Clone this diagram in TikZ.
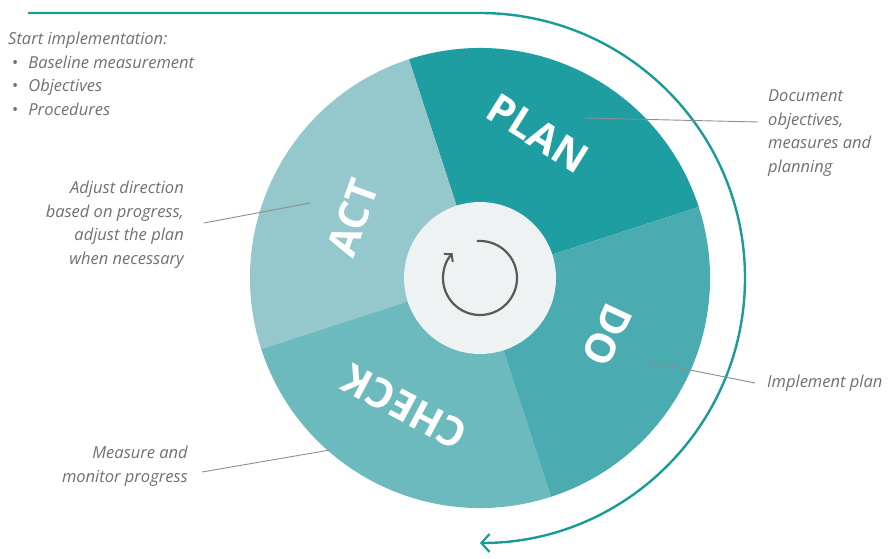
\documentclass[tikz,border=0pt]{standalone}
\usepackage{fontspec}
\setmainfont{Open Sans}
\usepackage{tikz}
\usetikzlibrary{arrows.meta,positioning,calc}
\definecolor{planteal}{RGB}{30,158,160}
\definecolor{doteal}{RGB}{74,172,176}
\definecolor{checkteal}{RGB}{108,186,190}
\definecolor{actteal}{RGB}{148,200,204}
\definecolor{hubgray}{RGB}{238,242,242}
\definecolor{arrowteal}{RGB}{26,156,150}
\definecolor{notegray}{RGB}{112,112,112}

\begin{document}
\begin{tikzpicture}[x=1pt, y=1pt,
    note/.style={font=\fontsize{16.5}{23.5}\selectfont\itshape, text=notegray, inner sep=0pt},
    stage/.style={font=\fontsize{41}{41}\selectfont\bfseries, text=white, inner sep=0pt},
    callout/.style={draw=notegray!80, line width=0.9pt},
    loopline/.style={arrowteal, line width=2.4pt, -{Straight Barb[length=8pt, width=18pt, line width=2.2pt]}}
]
\useasboundingbox (0,0) rectangle (896,558);
\coordinate (c) at (480,280);

% quarter sectors
\fill[planteal] (c) -- ++(18:230) arc[start angle=18, end angle=108, radius=230] -- cycle;
\fill[actteal] (c) -- ++(108:230) arc[start angle=108, end angle=198, radius=230] -- cycle;
\fill[checkteal] (c) -- ++(198:230) arc[start angle=198, end angle=288, radius=230] -- cycle;
\fill[doteal] (c) -- ++(288:230) arc[start angle=288, end angle=378, radius=230] -- cycle;

% hub with loop icon
\node[circle, fill=hubgray, minimum size=152pt, inner sep=0pt] (hub) at (c) {};
\draw[black!65, line width=2.2pt, -{Straight Barb[length=5pt, width=12pt, line width=2pt]}]
    ([shift={(95:37)}]hub.center) arc[start angle=95, end angle=-222, radius=37];

% stage labels
\node[stage, rotate=-32] (plan) at (538,425) {PLAN};
\node[stage, rotate=70] (act) at (353,340) {ACT};
\node[stage, rotate=-115] (do) at (607,223) {DO};
\node[stage, rotate=152] (check) at (405,151) {CHECK};

% outer arrow
\coordinate (start) at (28,545);
\draw[loopline] (start) -- (480,545) arc[start angle=90, end angle=-90, radius=265];

% notes
\node[note, anchor=north west, align=left] (starttxt) at (8,526)
    {Start implementation:\\
     \hspace{4pt}{\upshape\textbullet}\hspace{10pt}Baseline measurement\\
     \hspace{4pt}{\upshape\textbullet}\hspace{10pt}Objectives\\
     \hspace{4pt}{\upshape\textbullet}\hspace{10pt}Procedures};
\node[note, anchor=north west, align=left] (plantxt) at (768,468)
    {Document\\objectives,\\measures and\\planning};
\node[note, anchor=north east, align=right] (acttxt) at (184,377)
    {Adjust direction\\based on progress,\\adjust the plan\\when necessary};
\node[note, anchor=west] (dotxt) at (767,175) {Implement plan};
\node[note, anchor=north east, align=right] (checktxt) at (188,112)
    {Measure and\\monitor progress};

% callout lines
\coordinate (planpt) at (585,440);
\coordinate (actpt) at (310,355);
\coordinate (dopt) at (650,196);
\coordinate (checkpt) at (330,108);
\draw[callout] (planpt) -- ($(plantxt.north west)+(-10,-32)$);
\draw[callout] (actpt) -- ($(acttxt.north east)+(20,-42)$);
\draw[callout] (dopt) -- ($(dotxt.west)+(-12,0)$);
\draw[callout] (checkpt) -- ($(checktxt.north east)+(14,-26)$);
\end{tikzpicture}
\end{document}
